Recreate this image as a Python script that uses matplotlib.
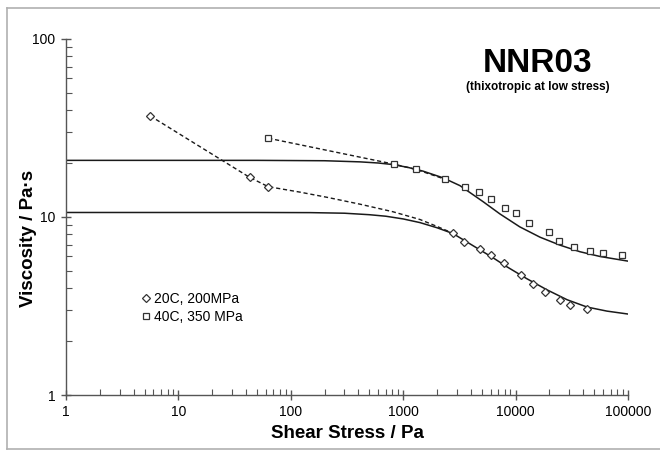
import matplotlib.pyplot as plt
from matplotlib.lines import Line2D

plt.rcParams['font.family'] = ['Liberation Sans', 'DejaVu Sans']

# measured data, 20C / 200 MPa (diamonds)
stress_20 = [5.6, 43, 63, 2770, 3470, 4820, 6030, 7890, 11200, 14300, 18200, 24800, 30500, 43200]
visc_20 = [37, 16.7, 14.8, 8.1, 7.2, 6.6, 6.15, 5.5, 4.7, 4.2, 3.8, 3.4, 3.2, 3.05]

# measured data, 40C / 350 MPa (squares)
stress_40 = [63, 828, 1300, 2355, 3550, 4720, 6030, 8050, 10000, 13200, 19800, 24300, 33100, 45700, 60000, 89000]
visc_40 = [27.7, 19.8, 18.5, 16.3, 14.7, 13.9, 12.6, 11.3, 10.5, 9.2, 8.2, 7.3, 6.8, 6.4, 6.3, 6.15]

# dashed guide lines
dash_20_x = [5.6, 43, 63, 120, 210, 413, 811, 1410, 2000, 2770]
dash_20_y = [37, 16.7, 14.8, 13.8, 12.9, 11.8, 10.7, 9.68, 8.85, 8.1]
dash_40_x = [63, 828, 1300, 2355]
dash_40_y = [27.7, 19.8, 18.5, 16.3]

# model fit curves
fit_20_x = [1, 50, 150, 300, 500, 700, 1000, 1410, 2000, 2775, 4180, 6300, 8380, 12600,
            19000, 28700, 43200, 65000, 100000]
fit_20_y = [10.6, 10.6, 10.58, 10.5, 10.3, 10.1, 9.75, 9.3, 8.7, 8.07, 6.9, 5.9, 5.25, 4.5,
            3.9, 3.43, 3.12, 2.96, 2.85]
fit_40_x = [1, 50, 200, 413, 600, 811, 1100, 1500, 2260, 3200, 5130, 7260, 10900, 16500,
            24800, 37400, 56400, 100000]
fit_40_y = [20.8, 20.8, 20.7, 20.4, 20.1, 19.7, 19.0, 18.1, 16.6, 15.0, 12.2, 10.4, 8.8, 7.7,
            6.95, 6.38, 6.0, 5.65]

fig = plt.figure(figsize=(6.6, 4.53), dpi=100)
ax = fig.add_axes([0.1, 0.128, 0.8515, 0.786])

line_col = '#1a1a1a'
ax.plot(fit_20_x, fit_20_y, color=line_col, lw=1.1)
ax.plot(fit_40_x, fit_40_y, color=line_col, lw=1.1)
ax.plot(dash_20_x, dash_20_y, color=line_col, lw=1.0, dashes=(3, 2))
ax.plot(dash_40_x, dash_40_y, color=line_col, lw=1.0, dashes=(3, 2))

ax.plot(stress_20, visc_20, ls='none', marker='D', ms=4, mfc='white', mec='#333333', mew=0.9,
        label='20C, 200MPa')
ax.plot(stress_40, visc_40, ls='none', marker='s', ms=5, mfc='white', mec='#333333', mew=0.9,
        label='40C, 350 MPa')

ax.set_xscale('log')
ax.set_yscale('log')
ax.set_xlim(1, 100000)
ax.set_ylim(1, 100)
ax.set_xticks([1, 10, 100, 1000, 10000, 100000])
ax.set_xticklabels(['1', '10', '100', '1000', '10000', '100000'])
ax.set_yticks([1, 10, 100])
ax.set_yticklabels(['1', '10', '100'])

for s in ['top', 'right']:
    ax.spines[s].set_visible(False)
for s in ['left', 'bottom']:
    ax.spines[s].set_color('#555555')
    ax.spines[s].set_linewidth(1.0)

ax.tick_params(which='major', direction='inout', length=7, width=1, color='#555555',
               labelsize=10, pad=4)
ax.tick_params(which='minor', direction='in', length=4, width=0.8, color='#555555')

ax.set_xlabel('Shear Stress / Pa', fontsize=13.5, fontweight='bold', labelpad=4)
ax.set_ylabel('Viscosity / Pa·s', fontsize=13.5, fontweight='bold', labelpad=6)
ax.yaxis.set_label_coords(-0.052, 0.44)

ax.legend(loc='upper left', bbox_to_anchor=(0.125, 0.305), frameon=False, fontsize=10,
          handlelength=0.6, handletextpad=0.3, borderaxespad=0, labelspacing=0.3)

fig.text(538 / 660, 1 - 63 / 453, 'NNR03', fontsize=24, fontweight='bold', ha='center', va='center')
fig.text(538 / 660, 1 - 87 / 453, '(thixotropic at low stress)', fontsize=8.5, fontweight='bold',
         ha='center', va='center')

# grey frame around the picture
frame_col = '#b0b0b0'
fig.add_artist(Line2D([7 / 660, 1], [1 - 8 / 453, 1 - 8 / 453], color=frame_col, lw=1.2))
fig.add_artist(Line2D([7 / 660, 7 / 660], [1 - 8 / 453, 1 - 449 / 453], color=frame_col, lw=1.2))
fig.add_artist(Line2D([7 / 660, 1], [1 - 449 / 453, 1 - 449 / 453], color=frame_col, lw=1.2))

fig.savefig('out.png', dpi=100)
